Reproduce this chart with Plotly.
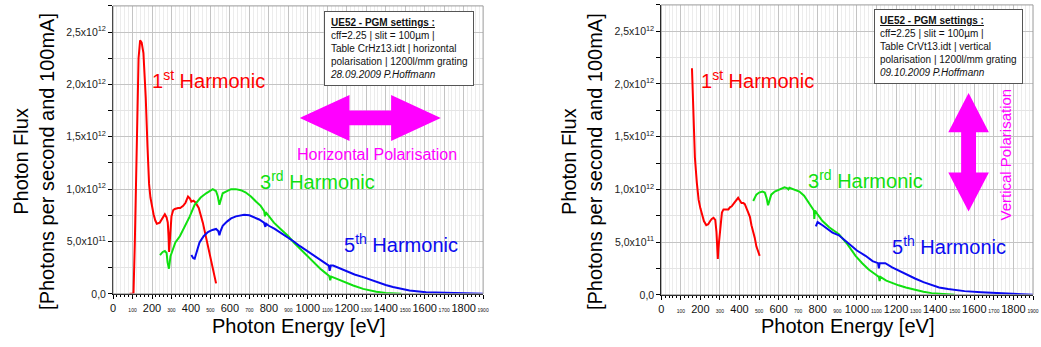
import plotly.graph_objects as go

# ---- UE52 PGM flux curves, horizontal polarisation (28.09.2009) ----
# photon energy [eV], flux [1e12 photons / s / 100mA]
h1_energy = [85, 105, 112, 118, 124, 131, 139, 147, 156, 168, 177, 185, 192, 199, 208, 217, 225, 240,
             255, 266, 275, 281, 285, 288, 292, 300, 309, 317, 334, 345, 360, 372, 385, 395, 402, 413,
             424, 440, 461, 478, 495, 512, 529]
h1_flux = [0.0, 0.0, 0.5, 1.1, 1.6, 2.25, 2.42, 2.40, 2.30, 1.87, 1.40, 1.05, 0.92, 0.84, 0.76, 0.70,
           0.67, 0.68, 0.73, 0.76, 0.73, 0.68, 0.55, 0.40, 0.52, 0.74, 0.80, 0.81, 0.82, 0.82, 0.84, 0.87,
           0.93, 0.91, 0.88, 0.89, 0.87, 0.82, 0.68, 0.53, 0.40, 0.25, 0.10]

h3_energy = [241, 255, 266, 275, 280, 287, 295, 309, 320, 343, 370, 394, 419, 450, 478, 500, 512, 529,
             538, 546, 552, 563, 585, 606, 630, 656, 680, 708, 735, 758, 776, 780, 784, 800, 826, 860,
             900, 928, 960, 996, 1030, 1064, 1090, 1110, 1115, 1120, 1140, 1166, 1200, 1233, 1284,
             1320, 1352, 1400, 1440, 1480]
h3_flux = [0.37, 0.40, 0.41, 0.39, 0.30, 0.24, 0.36, 0.44, 0.49, 0.55, 0.65, 0.74, 0.85, 0.92, 0.96,
           0.99, 1.0, 0.98, 0.93, 0.85, 0.90, 0.96, 0.98, 1.0, 1.0, 0.99, 0.97, 0.93, 0.88, 0.84, 0.79,
           0.74, 0.78, 0.74, 0.68, 0.62, 0.55, 0.49, 0.43, 0.36, 0.30, 0.24, 0.20, 0.17, 0.13, 0.165,
           0.15, 0.13, 0.10, 0.08, 0.047, 0.032, 0.02, 0.009, 0.004, 0.0]

h5_energy = [402, 412, 419, 430, 444, 465, 487, 510, 529, 540, 546, 552, 563, 585, 606, 631, 656, 673,
             700, 724, 750, 775, 782, 786, 800, 830, 860, 900, 928, 960, 996, 1030, 1064, 1090, 1108,
             1112, 1118, 1130, 1160, 1200, 1240, 1284, 1320, 1352, 1400, 1437, 1522, 1607, 1700, 1776,
             1850, 1900]
h5_flux = [0.37, 0.34, 0.335, 0.40, 0.49, 0.55, 0.59, 0.61, 0.62, 0.60, 0.56, 0.60, 0.65, 0.69, 0.72,
           0.74, 0.75, 0.755, 0.75, 0.73, 0.71, 0.68, 0.64, 0.67, 0.65, 0.62, 0.585, 0.535, 0.50, 0.455,
           0.41, 0.365, 0.32, 0.29, 0.27, 0.22, 0.27, 0.27, 0.245, 0.216, 0.185, 0.16, 0.135, 0.115,
           0.085, 0.065, 0.031, 0.016, 0.01, 0.006, 0.003, 0.0]

# ---- vertical polarisation (09.10.2009) ----
v1_energy = [157, 162, 166, 172, 182, 191, 200, 208, 218, 230, 240, 250, 258, 267, 276, 282, 286, 289,
             292, 301, 310, 318, 334, 343, 351, 360, 372, 385, 393, 400, 410, 420, 427, 440, 453, 461,
             470, 478, 486, 495, 503]
v1_flux = [2.15, 1.85, 1.56, 1.30, 1.06, 0.90, 0.82, 0.77, 0.70, 0.66, 0.67, 0.70, 0.72, 0.73, 0.71,
           0.60, 0.45, 0.34, 0.44, 0.60, 0.78, 0.81, 0.81, 0.81, 0.83, 0.84, 0.87, 0.90, 0.92, 0.90,
           0.87, 0.87, 0.86, 0.80, 0.74, 0.66, 0.60, 0.54, 0.46, 0.41, 0.37]

v3_energy = [470, 486, 500, 517, 529, 538, 546, 553, 562, 580, 605, 630, 645, 650, 655, 680, 706, 730,
             757, 775, 780, 782, 786, 800, 824, 858, 908, 951, 993, 1027, 1060, 1090, 1112, 1116, 1120,
             1150, 1180, 1213, 1250, 1297, 1340, 1382, 1440, 1500]
v3_flux = [0.89, 0.95, 0.97, 0.98, 0.97, 0.92, 0.85, 0.90, 0.95, 0.98, 1.0, 1.02, 1.01, 1.0, 1.015,
           1.0, 0.98, 0.94, 0.87, 0.82, 0.80, 0.72, 0.80, 0.76, 0.70, 0.64, 0.575, 0.48, 0.37, 0.30,
           0.24, 0.20, 0.17, 0.13, 0.17, 0.135, 0.11, 0.09, 0.07, 0.047, 0.03, 0.016, 0.006, 0.0]

v5_energy = [790, 799, 824, 850, 875, 908, 959, 1000, 1044, 1080, 1108, 1112, 1116, 1145, 1180, 1213,
             1250, 1297, 1340, 1382, 1420, 1466, 1550, 1635, 1719, 1803, 1900]
v5_flux = [0.65, 0.69, 0.66, 0.62, 0.59, 0.565, 0.48, 0.42, 0.37, 0.32, 0.30, 0.25, 0.30, 0.30, 0.26,
           0.23, 0.19, 0.155, 0.12, 0.093, 0.07, 0.056, 0.035, 0.025, 0.015, 0.006, 0.0]

# axis ticks
x_ticks = list(range(0, 2000, 100))
x_ticktext = [str(v) if v % 200 == 0 else '<span style="font-size:5px">%d</span>' % v for v in x_ticks]
y_ticks = [0, 0.5, 1.0, 1.5, 2.0, 2.5]
y_ticktext = ["0,0", "5,0x10<sup>11</sup>", "1,0x10<sup>12</sup>", "1,5x10<sup>12</sup>",
              "2,0x10<sup>12</sup>", "2,5x10<sup>12</sup>"]

RED, GREEN, BLUE, MAGENTA = "#ff0000", "#10e010", "#0a0af0", "#ff00ff"
FONT = "Liberation Sans, Arial, Helvetica, sans-serif"

W, H = 1041, 347


def px(x):
    return x / W


def py(y):
    return 1 - y / H


fig = go.Figure()

series = [
    (h1_energy, h1_flux, RED, "x", "y"),
    (h3_energy, h3_flux, GREEN, "x", "y"),
    (h5_energy, h5_flux, BLUE, "x", "y"),
    (v1_energy, v1_flux, RED, "x2", "y2"),
    (v3_energy, v3_flux, GREEN, "x2", "y2"),
    (v5_energy, v5_flux, BLUE, "x2", "y2"),
]
for xs, ys, col, xa, ya in series:
    fig.add_trace(go.Scatter(x=xs, y=ys, mode="lines", xaxis=xa, yaxis=ya,
                             line=dict(color=col, width=2), showlegend=False, hoverinfo="skip"))

xaxis_common = dict(
    range=[0, 1900], tickmode="array", tickvals=x_ticks, ticktext=x_ticktext, tickangle=0,
    ticks="outside", ticklen=4, tickcolor="black", showline=True, linecolor="black", linewidth=1,
    showgrid=True, gridcolor="#c4c4c4", gridwidth=1, zeroline=False,
    tickfont=dict(family=FONT, size=11, color="#111"),
    minor=dict(dtick=20, tick0=0, ticks="outside", ticklen=2, tickcolor="black",
               showgrid=True, gridcolor="#ececec", gridwidth=1),
)
yaxis_common = dict(
    range=[0, 2.75], tickmode="array", tickvals=y_ticks, ticktext=y_ticktext,
    ticks="outside", ticklen=4, tickcolor="black", showline=True, linecolor="black", linewidth=1,
    showgrid=True, gridcolor="#c4c4c4", gridwidth=1, zeroline=False,
    tickfont=dict(family=FONT, size=10.5, color="#222"),
    minor=dict(dtick=0.25, tick0=0, ticks="outside", ticklen=4, tickcolor="black",
               showgrid=True, gridcolor="#e4e4e4", gridwidth=1),
)

fig.update_layout(
    width=W, height=H, margin=dict(l=0, r=0, t=0, b=0),
    paper_bgcolor="white", plot_bgcolor="white",
    xaxis=dict(domain=[px(111), px(484.3)], anchor="y", **xaxis_common),
    yaxis=dict(domain=[py(299), py(6)], anchor="x", **yaxis_common),
    xaxis2=dict(domain=[px(664), px(1039)], anchor="y2", **xaxis_common),
    yaxis2=dict(domain=[py(300), py(5)], anchor="x2", **yaxis_common),
)

# light frame on top / right of each plot
for xr, yr in (("x domain", "y domain"), ("x2 domain", "y2 domain")):
    fig.add_shape(type="rect", xref=xr, yref=yr, x0=0, x1=1, y0=0, y1=1,
                  line=dict(color="#9a9a9a", width=1), layer="above")


def ann(text, x, y, size, color="black", xanchor="center", yanchor="middle", **kw):
    fig.add_annotation(text=text, x=px(x), y=py(y), xref="paper", yref="paper",
                       xanchor=xanchor, yanchor=yanchor, showarrow=False,
                       font=dict(family=FONT, size=size, color=color), **kw)


# axis titles
for cx, tx in ((31, 298), (584, 852)):
    ann("Photon Flux<br>[Photons per second and 100mA]", cx, 164, 20, textangle=-90)
    ann("Photon Energy [eV]", tx, 332, 20)

# harmonic labels
ann("1<sup>st</sup> Harmonic", 148, 81, 20, RED, xanchor="left")
ann("3<sup>rd</sup> Harmonic", 257, 184, 20, GREEN, xanchor="left")
ann("5<sup>th</sup> Harmonic", 342, 248, 20, BLUE, xanchor="left")
ann("1<sup>st</sup> Harmonic", 702, 81, 20, RED, xanchor="left")
ann("3<sup>rd</sup> Harmonic", 810, 183, 20, GREEN, xanchor="left")
ann("5<sup>th</sup> Harmonic", 895, 250, 20, BLUE, xanchor="left")

# polarisation labels
ann("Horizontal Polarisation", 377, 157, 16, MAGENTA)
ann("Vertical Polarisation", 1011, 157, 15, MAGENTA, textangle=-90)

# settings boxes
box_lines = [
    ('<b><span style="text-decoration:underline">UE52 - PGM settings :</span></b>',
     "cff=2.25 | slit = 100µm |", "Table CrHz13.idt | horizontal",
     "polarisation | 1200l/mm grating", "<i>28.09.2009 P.Hoffmann</i>"),
    ('<b><span style="text-decoration:underline">UE52 - PGM settings :</span></b>',
     "cff=2.25 | slit = 100µm |", "Table CrVt13.idt | vertical",
     "polarisation | 1200l/mm grating", "<i>09.10.2009 P.Hoffmann</i>"),
]
for lines, (bx, by) in zip(box_lines, ((323.5, 11.7), (878.5, 9.3))):
    ann("<br>".join(lines), bx, by, 10, "#111", xanchor="left", yanchor="top", align="left",
        bordercolor="#555", borderwidth=1, borderpad=5, bgcolor="white")


# polarisation arrows (pixel outlines)
def arrow_path(points):
    return "M " + " L ".join("%.5f,%.5f" % (px(a), py(b)) for a, b in points) + " Z"


h_arrow = [(303, 120), (348, 99), (348, 114), (393, 114), (393, 99), (438, 120),
           (393, 141), (393, 126), (348, 126), (348, 141)]
v_arrow = [(974, 98), (992, 133), (980, 133), (980, 177), (992, 177), (974, 212),
           (956, 177), (968, 177), (968, 133), (956, 133)]
for pts in (h_arrow, v_arrow):
    fig.add_shape(type="path", xref="paper", yref="paper", path=arrow_path(pts),
                  fillcolor=MAGENTA, line=dict(color=MAGENTA, width=3), layer="above")

fig.write_html("out.html")
